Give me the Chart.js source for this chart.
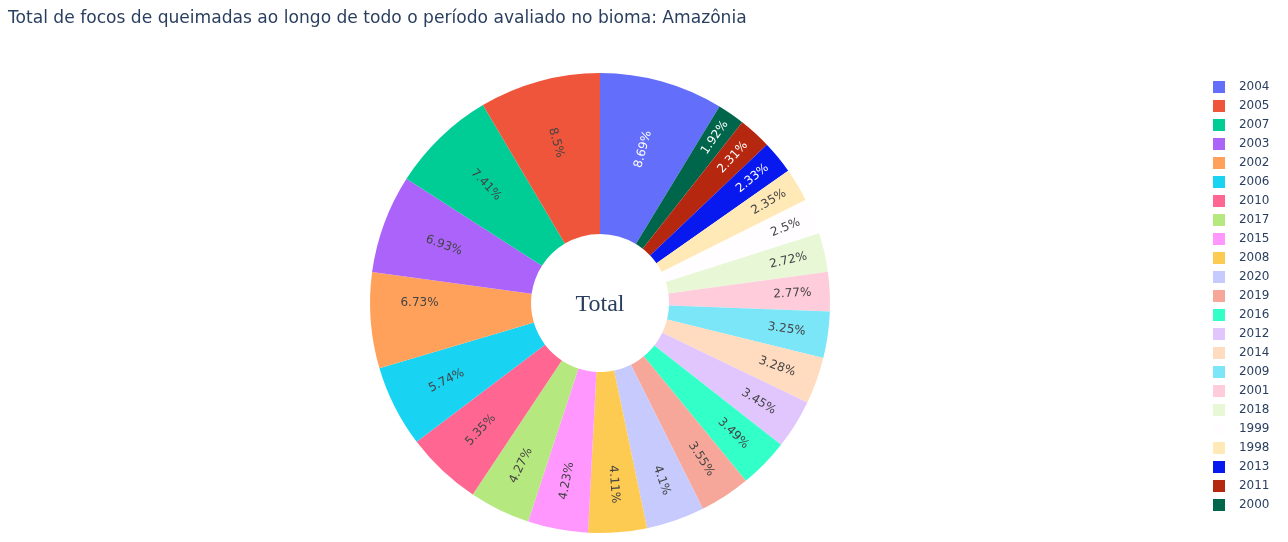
<!DOCTYPE html>
<html>
<head>
<meta charset="utf-8">
<script src="https://cdn.jsdelivr.net/npm/chart.js@4.4.1/dist/chart.umd.min.js"></script>
<style>
  html, body { margin: 0; padding: 0; background: #fff; overflow: hidden; }
  /* canvas is 6px wider and pushed left, so the pie centre lands where the reference has it */
  #wrap { position: absolute; left: -6px; top: 0; width: 1294px; height: 542px; }
</style>
</head>
<body>
<div id="wrap"><canvas id="chart"></canvas></div>
<script>
const TITLE = "Total de focos de queimadas ao longo de todo o período avaliado no bioma: Amazônia";
const CENTER_LABEL = "Total";

// legend order, biggest share first (% of all fire spots)
const YEARS = ["2004", "2005", "2007", "2003", "2002", "2006", "2010", "2017", "2015", "2008", "2020", "2019",
  "2016", "2012", "2014", "2009", "2001", "2018", "1999", "1998", "2013", "2011", "2000"];
const SHARES = [8.69, 8.5, 7.41, 6.93, 6.73, 5.74, 5.35, 4.27, 4.23, 4.11, 4.1, 3.55,
  3.49, 3.45, 3.28, 3.25, 2.77, 2.72, 2.5, 2.35, 2.33, 2.31, 1.92];
const COLORS = ["#636efa", "#ef553b", "#00cc96", "#ab63fa", "#ffa15a", "#19d3f3", "#ff6692", "#b6e880",
  "#ff97ff", "#fecb52", "#c6cafd", "#f7a799", "#33ffc9", "#e0c6fd", "#ffdbc0", "#7ae6f8", "#ffccdb",
  "#e8f8d6", "#fffdff", "#ffe9b7", "#0819ef", "#b5270f", "#00664b"];

const TEXT = "#2a3f5f";
const DARK_TEXT = "#444";
const FONT = "'DejaVu Sans', Verdana, sans-serif";
const SHIFT = 6; // matches the css offset of #wrap

// slices go clockwise from 12 o'clock: the biggest first, then the rest from smallest up
const order = [0].concat(YEARS.map((_, i) => i).slice(1).reverse());
const total = SHARES.reduce((a, b) => a + b, 0);

function isLight(hex) {
  const n = parseInt(hex.slice(1), 16);
  const r = n >> 16, g = (n >> 8) & 255, b = n & 255;
  return (r * 299 + g * 587 + b * 114) / 1000 >= 128;
}

// inside-label placement, plotly style
const TEXTPAD = 3;
function maxHalfSize(a, half, r, ring) {
  const q = a + 1 / (2 * Math.tan(half));
  return r * Math.min(1 / (Math.sqrt(q * q + 0.5) + q), ring / (Math.sqrt(a * a + ring / 2) + a));
}
function fitAlong(w, h, R, ring, half) {
  const r = R - 2 * TEXTPAD, a = w / h, s = maxHalfSize(a, half, r, ring);
  return { scale: 2 * s / h, rc: Math.sqrt(1 - (s / r) ** 2) - a * s / r };
}
function fitAcross(w, h, R, ring, half) {
  const r = R - 2 * TEXTPAD, a = h / w, s = maxHalfSize(a, half, r, ring);
  return { scale: 2 * s / w, rc: Math.sqrt(1 - (s / r) ** 2) - a * s / r };
}
function upright(deg) {
  let d = ((deg % 360) + 360) % 360;
  if (d > 180) d -= 360;
  if (d > 90) d -= 180;
  if (d <= -90) d += 180;
  return d;
}

function placeLabel(t0, t1, w, h, R, ring) {
  const mid = (t0 + t1) / 2, half = (t1 - t0) / 2;
  const crossings = [0, Math.PI, 2 * Math.PI, Math.PI / 2, 1.5 * Math.PI];
  for (const c of crossings) {
    if (t0 < c - 1e-6 && c + 1e-6 < t1) {
      const edge = Math.min(c - t0, t1 - c);
      const vertical = c === Math.PI / 2 || c === 1.5 * Math.PI;
      const f = vertical ? fitAlong(w, h, R, ring, edge) : fitAcross(w, h, R, ring, edge);
      if (f.scale >= 1) return { scale: 1, rc: f.rc, angle: c, rot: 0 };
    }
  }
  const rIns = Math.min(1 / (1 + 1 / Math.sin(half)), ring / 2);
  const cands = [
    { scale: rIns * (R - 2 * TEXTPAD) * 2 / Math.hypot(w, h), rc: 1 - rIns, rot: 0 },
    Object.assign(fitAlong(w, h, R, ring, half), { rot: upright(mid * 180 / Math.PI - 90) }),
    Object.assign(fitAcross(w, h, R, ring, half), { rot: upright(mid * 180 / Math.PI) }),
  ];
  let best = cands[0];
  cands.forEach((c) => { if (c.scale > best.scale) best = c; });
  return { scale: Math.min(1, best.scale), rc: best.rc, angle: mid, rot: best.rot };
}

const sliceLabels = {
  id: "sliceLabels",
  afterDatasetsDraw(chart) {
    const ctx = chart.ctx;
    const ds = chart.data.datasets[0];
    chart.getDatasetMeta(0).data.forEach((arc, i) => {
      const p = arc.getProps(["x", "y", "startAngle", "endAngle", "innerRadius", "outerRadius"], true);
      const pct = ds.data[i] / total * 100;
      const text = parseFloat(pct.toPrecision(3)) + "%";
      ctx.save();
      ctx.font = "12px " + FONT;
      const w = ctx.measureText(text).width;
      const R = p.outerRadius;
      const ring = (p.outerRadius - p.innerRadius) / p.outerRadius;
      const t0 = p.startAngle + Math.PI / 2, t1 = p.endAngle + Math.PI / 2;
      const L = placeLabel(t0, t1, w, 14, R, ring);
      const x = p.x + R * L.rc * Math.sin(L.angle);
      const y = p.y - R * L.rc * Math.cos(L.angle);
      ctx.translate(x, y);
      ctx.rotate(L.rot * Math.PI / 180);
      ctx.font = (12 * L.scale).toFixed(2) + "px " + FONT;
      ctx.textAlign = "center";
      ctx.textBaseline = "middle";
      ctx.fillStyle = isLight(ds.backgroundColor[i]) ? DARK_TEXT : "#fff";
      ctx.fillText(text, 0, 0);
      ctx.restore();
    });
  },
  afterDraw(chart) {
    const ctx = chart.ctx;
    const arc = chart.getDatasetMeta(0).data[0];
    ctx.save();
    ctx.fillStyle = TEXT;
    ctx.font = "17.1px " + FONT;
    ctx.textAlign = "left";
    ctx.textBaseline = "alphabetic";
    ctx.fillText(TITLE, 8 + SHIFT, 23);
    ctx.font = "24px 'Liberation Serif', 'Times New Roman', serif";
    ctx.textAlign = "center";
    ctx.fillText(CENTER_LABEL, arc.x, arc.y + 8);
    ctx.restore();
  },
};

new Chart(document.getElementById("chart"), {
  type: "doughnut",
  data: {
    labels: order.map((i) => YEARS[i]),
    datasets: [{
      data: order.map((i) => SHARES[i]),
      backgroundColor: order.map((i) => COLORS[i]),
      borderWidth: 0,
    }],
  },
  options: {
    responsive: true,
    maintainAspectRatio: false,
    animation: false,
    cutout: "30%",
    radius: 230,
    rotation: 0,
    layout: { padding: { top: 74, bottom: 10, left: 0, right: 18.5 } },
    plugins: {
      title: { display: false },
      tooltip: { enabled: false },
      legend: {
        position: "right",
        align: "start",
        maxWidth: 63.5,
        labels: {
          font: { family: FONT, size: 12 },
          color: TEXT,
          boxWidth: 12,
          boxHeight: 12,
          padding: 7,
          textAlign: "right",
          sort: (a, b, data) => data.datasets[0].data[b.index] - data.datasets[0].data[a.index],
        },
      },
    },
  },
  plugins: [sliceLabels],
});
</script>
</body>
</html>
